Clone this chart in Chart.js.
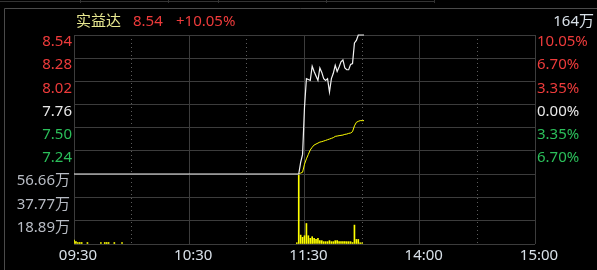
<!DOCTYPE html>
<html>
<head>
<meta charset="utf-8">
<script src="https://cdn.jsdelivr.net/npm/chart.js@4"></script>
<style>
  html, body { margin: 0; padding: 0; background: #000; }
  #wrap { position: relative; width: 597px; height: 270px; overflow: hidden; }
  #wrap canvas { position: absolute; left: 0; top: 0; }
</style>
</head>
<body>
<div id="wrap">
  <canvas id="volChart" width="597" height="270"></canvas>
  <canvas id="priceChart" width="597" height="270"></canvas>
</div>
<script>
// header
const stockName = "实益达";
const lastPrice = "8.54";
const lastChange = "+10.05%";
const maxVolumeLabel = "164万";

// minute index: 0 = 09:30, 120 = 11:30 / 13:00, 240 = 15:00
const timeTickValues = [0, 30, 60, 90, 120, 150, 180, 210, 240];
const timeTickLabels = ["09:30", "", "10:30", "", "11:30", "", "14:00", "", "15:00"];

const priceTicks = [8.54, 8.28, 8.02, 7.76, 7.50, 7.24, 6.98];
const priceTickLabels = ["8.54", "8.28", "8.02", "7.76", "7.50", "7.24", ""];
const pctTicks = [10.05, 6.70, 3.35, 0, -3.35, -6.70, -10.05];
const pctTickLabels = ["10.05%", "6.70%", "3.35%", "0.00%", "3.35%", "6.70%", ""];
const volTicks = [56.66, 37.77, 18.89, 0];
const volTickLabels = ["56.66万", "37.77万", "18.89万", ""];

// last price line
const priceMinutes = [0, 117, 118, 119, 120, 121, 122, 123, 124, 125, 126, 127, 128, 129, 130,
  131, 132, 133, 134, 135, 136, 137, 138, 139, 140, 141, 142, 143, 144, 145, 146, 147, 148,
  149, 150, 151];
const priceValues = [6.98, 6.98, 7.11, 7.20, 7.73, 8.05, 8.04, 8.03, 8.19, 8.13, 8.08, 8.03,
  8.17, 8.12, 8.05, 8.03, 8.05, 7.90, 8.05, 8.11, 8.20, 8.13, 8.18, 8.24, 8.26, 8.17, 8.15,
  8.15, 8.21, 8.22, 8.45, 8.48, 8.54, 8.54, 8.54, 8.54];

// average price line (hidden under the price line before 11:27)
const avgMinutes = [117, 118, 119, 120, 121, 122, 123, 124, 125, 126, 127, 128, 129, 130,
  131, 132, 133, 134, 135, 136, 137, 138, 139, 140, 141, 142, 143, 144, 145, 146, 147, 148,
  149, 150, 151];
const avgValues = [6.98, 6.99, 7.00, 7.09, 7.15, 7.20, 7.25, 7.28, 7.305, 7.316, 7.327,
  7.338, 7.343, 7.35, 7.357, 7.365, 7.372, 7.38, 7.388, 7.402, 7.406, 7.41, 7.414, 7.417,
  7.425, 7.428, 7.436, 7.44, 7.455, 7.52, 7.56, 7.571, 7.579, 7.579, 7.579];

// volume (万)
const volMinutes = [0, 1, 2, 3, 4, 7, 14, 16, 17, 18, 21, 25,
  116, 117, 118, 119, 120, 121, 122, 123, 124, 125, 126, 127, 128, 129, 130, 131, 132, 133,
  134, 135, 136, 137, 138, 139, 140, 141, 142, 143, 144, 145, 146, 147, 148, 149, 150];
const volValues = [3.2, 1.9, 1.2, 1.2, 1.2, 1.2, 1.2, 1.2, 1.2, 1.2, 1.2, 1.2,
  1.0, 164, 7.2, 5.4, 6.7, 16.6, 6.7, 4.6, 5.9, 4.6, 3.7, 4.6, 2.7, 2.7, 1.9, 1.9, 1.9, 2.7,
  1.9, 1.9, 2.7, 2.7, 1.9, 1.9, 1.9, 1.9, 1.9, 1.9, 1.9, 1.2, 15.3, 3.7, 3.7, 1.0, 1.0];

const FONT = "'Noto Sans', 'Noto Sans CJK SC', sans-serif";
const RED = "#ee3b3b";
const GREEN = "#2bbf5a";
const WHITE = "#e8e8e8";
const GRID = "#3c3c3c";
const DOT = "#5c5c5c";

const PLOT_LEFT = 74;
const PLOT_RIGHT_W = 62;

const toPoints = (xs, ys) => xs.map((x, i) => ({ x: x, y: ys[i] }));

function setTicks(values) {
    return scale => { scale.ticks = values.map(v => ({ value: v })); };
}

function timeGrid() {
    return {
        drawTicks: false,
        color: ctx => ctx.tick && ctx.tick.value % 60 !== 0 ? DOT : GRID,
    };
}
function timeBorder() {
    return {
        display: false,
        dash: ctx => ctx.tick && ctx.tick.value % 60 !== 0 ? [1, 3] : [],
    };
}

const framePlugin = {
    id: "frame",
    afterDraw(chart) {
        const ctx = chart.ctx;
        ctx.save();
        ctx.strokeStyle = "#4a4a4a";
        ctx.lineWidth = 1;
        ctx.beginPath();
        ctx.moveTo(4.5, 270);
        ctx.lineTo(4.5, 8.5);
        ctx.lineTo(597, 8.5);
        ctx.stroke();

        ctx.strokeStyle = "#333";
        ctx.beginPath();
        ctx.moveTo(0, 1.5);
        ctx.lineTo(434, 1.5);
        [80, 168, 218, 326, 434].forEach(x => {
            ctx.moveTo(x + 0.5, 0);
            ctx.lineTo(x + 0.5, 3);
        });
        ctx.stroke();

        ctx.font = "15px " + FONT;
        ctx.textBaseline = "middle";
        ctx.textAlign = "left";
        ctx.fillStyle = "#e8e890";
        ctx.fillText(stockName, 76, 22);
        ctx.fillStyle = RED;
        ctx.fillText(lastPrice, 133, 22);
        ctx.fillText(lastChange, 176, 22);
        ctx.textAlign = "right";
        ctx.fillStyle = "#d8e0e8";
        ctx.fillText(maxVolumeLabel, 594, 22);
        ctx.restore();
    }
};

new Chart(document.getElementById("priceChart"), {
    type: "line",
    data: {
        datasets: [
            {
                data: toPoints(priceMinutes, priceValues),
                borderColor: "#f2f2f2",
                borderWidth: 1.2,
                pointRadius: 0,
                tension: 0,
                clip: 2,
                order: 1,
            },
            {
                data: toPoints(avgMinutes, avgValues),
                borderColor: "#ffff00",
                borderWidth: 1,
                pointRadius: 0,
                tension: 0,
                clip: 2,
                order: 2,
            }
        ]
    },
    options: {
        responsive: false,
        animation: false,
        events: [],
        layout: { padding: { top: 35, bottom: 96, left: 0, right: 0 } },
        plugins: { legend: { display: false }, tooltip: { enabled: false } },
        scales: {
            x: {
                type: "linear",
                min: 0,
                max: 240,
                afterBuildTicks: setTicks(timeTickValues),
                afterFit: s => { s.height = 0; },
                ticks: { display: false },
                grid: timeGrid(),
                border: timeBorder(),
            },
            y: {
                position: "left",
                min: 6.98,
                max: 8.54,
                afterBuildTicks: setTicks(priceTicks),
                afterFit: s => { s.width = PLOT_LEFT; },
                ticks: {
                    autoSkip: false,
                    padding: 2,
                    labelOffset: 7,
                    font: { family: FONT, size: 15 },
                    callback: (v, i) => priceTickLabels[i],
                    color: ctx => ctx.tick.value > 7.76 ? RED : (ctx.tick.value < 7.76 ? GREEN : WHITE),
                },
                grid: { color: GRID, drawTicks: false },
                border: { color: GRID },
            },
            pct: {
                position: "right",
                min: -10.05,
                max: 10.05,
                afterBuildTicks: setTicks(pctTicks),
                afterFit: s => { s.width = PLOT_RIGHT_W; },
                ticks: {
                    autoSkip: false,
                    padding: 2,
                    labelOffset: 7,
                    font: { family: FONT, size: 15 },
                    callback: (v, i) => pctTickLabels[i],
                    color: ctx => ctx.tick.value > 0 ? RED : (ctx.tick.value < 0 ? GREEN : WHITE),
                },
                grid: { drawOnChartArea: false, drawTicks: false },
                border: { color: GRID },
            }
        }
    },
    plugins: [framePlugin]
});

new Chart(document.getElementById("volChart"), {
    type: "bar",
    data: {
        datasets: [{
            data: toPoints(volMinutes, volValues),
            backgroundColor: "#ffff00",
            borderWidth: 0,
            barThickness: 1,
            clip: 0,
        }]
    },
    options: {
        responsive: false,
        animation: false,
        events: [],
        layout: { padding: { top: 174, bottom: 0, left: 0, right: PLOT_RIGHT_W } },
        plugins: { legend: { display: false }, tooltip: { enabled: false } },
        scales: {
            x: {
                type: "linear",
                min: 0,
                max: 240,
                offset: false,
                afterBuildTicks: setTicks(timeTickValues),
                afterFit: s => { s.height = 26; },
                ticks: {
                    autoSkip: false,
                    maxRotation: 0,
                    padding: 3,
                    labelOffset: 4,
                    font: { family: FONT, size: 15 },
                    color: "#d8e0e8",
                    callback: (v, i) => timeTickLabels[i],
                },
                grid: Object.assign(timeGrid(), { offset: false }),
                border: timeBorder(),
            },
            y: {
                min: 0,
                max: 56.66,
                afterBuildTicks: setTicks(volTicks),
                afterFit: s => { s.width = PLOT_LEFT; },
                ticks: {
                    autoSkip: false,
                    padding: 4,
                    labelOffset: 7,
                    font: { family: FONT, size: 15 },
                    color: "#b8bcc4",
                    callback: (v, i) => volTickLabels[i],
                },
                grid: { color: GRID, drawTicks: false },
                border: { color: GRID },
            }
        }
    }
});
</script>
</body>
</html>
